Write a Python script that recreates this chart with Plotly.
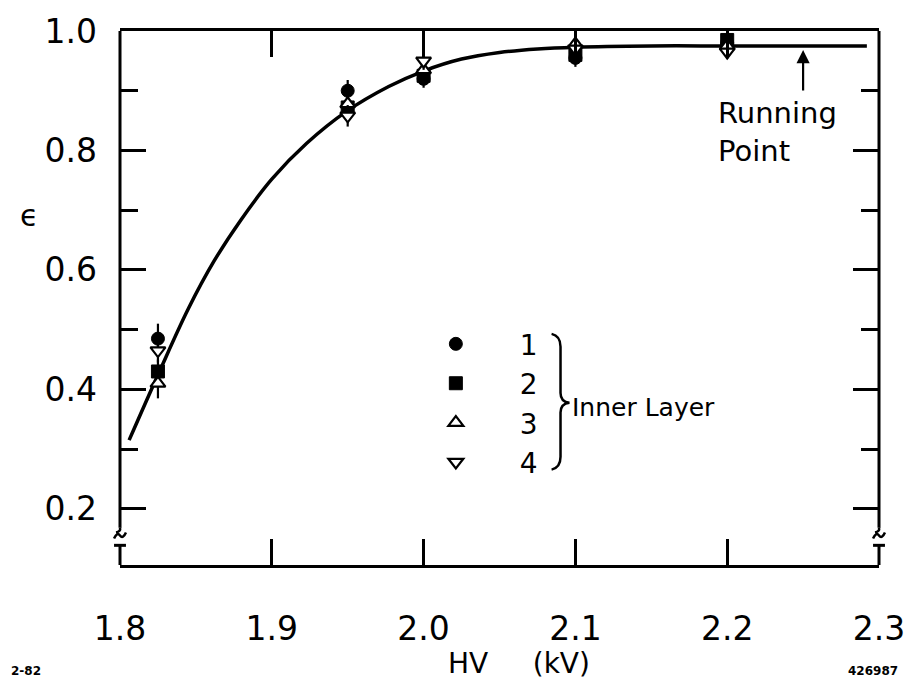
import plotly.graph_objects as go

# ---------------- data ----------------
hv = [1.825, 1.95, 2.0, 2.1, 2.2]
eff_1 = [0.485, 0.900, 0.920, 0.955, 0.980]
eff_2 = [0.430, 0.872, 0.925, 0.960, 0.985]
eff_3 = [0.410, 0.878, 0.935, 0.978, 0.975]
eff_4 = [0.465, 0.858, 0.950, 0.970, 0.965]
err_1 = [0.025, 0.018, 0.015, 0.015, 0.012]
err_2 = [0.020, 0.015, 0.015, 0.015, 0.012]
err_3 = [0.025, 0.015, 0.015, 0.015, 0.012]
err_4 = [0.020, 0.018, 0.015, 0.015, 0.012]
series_names = ["1", "2", "3", "4"]

curve_hv = [1.806, 1.826, 1.845, 1.862, 1.880, 1.900, 1.923, 1.949, 1.977, 2.000,
            2.025, 2.050, 2.075, 2.100, 2.150, 2.200, 2.250, 2.292]
curve_eff = [0.315, 0.430, 0.535, 0.615, 0.685, 0.752, 0.812, 0.865, 0.907, 0.933,
             0.953, 0.964, 0.970, 0.973, 0.975, 0.975, 0.975, 0.975]

x_ticks = [1.8, 1.9, 2.0, 2.1, 2.2, 2.3]
x_ticktext = ["1.8", "1.9", "2.0", "2.1", "2.2", "2.3"]
y_ticks = [0.2, 0.4, 0.6, 0.8, 1.0]
y_ticktext = ["0.2", "0.4", "0.6", "0.8", "1.0"]
running_point = 2.25
plateau = 0.975

# ---------------- geometry helpers (decorations only) ----------------
W, H = 917, 684
ML, MR, MT, MB = 120, 32, 22, 119
PW, PH = W - ML - MR, H - MT - MB
Y0, Y1 = 0.106, 1.0


def px(xp):
    return (xp - ML) / PW


def py(yp):
    return (H - MB - yp) / PH


FONT = "DejaVu Sans"
fig = go.Figure()

fig.add_trace(go.Scatter(x=curve_hv, y=curve_eff, mode="lines",
                         line=dict(color="black", width=3.5, shape="spline", smoothing=1.0),
                         showlegend=False, hoverinfo="skip"))

styles = [
    dict(symbol="circle", color="black", line=dict(color="black", width=1)),
    dict(symbol="square", color="black", line=dict(color="black", width=1)),
    dict(symbol="triangle-up", color="white", line=dict(color="black", width=2.2)),
    dict(symbol="triangle-down", color="white", line=dict(color="black", width=2.2)),
]
for name, ys, es, st in zip(series_names, [eff_1, eff_2, eff_3, eff_4],
                            [err_1, err_2, err_3, err_4], styles):
    fig.add_trace(go.Scatter(
        x=hv, y=ys, mode="markers", name=name,
        marker=dict(size=13, **st),
        error_y=dict(type="data", array=es, color="black", thickness=2.2, width=0),
    ))

shapes = []
# left & right axis lines with a break
for xpix in (ML, W - MR):
    xp = px(xpix)
    shapes.append(dict(type="line", xref="paper", yref="paper", x0=xp, x1=xp,
                       y0=1, y1=py(527), line=dict(color="black", width=3)))
    shapes.append(dict(type="line", xref="paper", yref="paper", x0=xp, x1=xp,
                       y0=py(545), y1=0, line=dict(color="black", width=3)))
    shapes.append(dict(type="line", xref="paper", yref="paper", x0=px(xpix - 6), x1=px(xpix + 6),
                       y0=py(545), y1=py(545), line=dict(color="black", width=3)))
    path = (f"M {px(xpix - 6)},{py(538)} Q {px(xpix - 3)},{py(531)} {px(xpix)},{py(535)} "
            f"Q {px(xpix + 3)},{py(539)} {px(xpix + 6)},{py(532)}")
    shapes.append(dict(type="path", xref="paper", yref="paper", path=path,
                       line=dict(color="black", width=2.5)))
    path2 = f"M {px(xpix)},{py(527)} Q {px(xpix + 1)},{py(531)} {px(xpix - 4)},{py(532)}"
    shapes.append(dict(type="path", xref="paper", yref="paper", path=path2,
                       line=dict(color="black", width=2.5)))

# brace
bp = [(555, 330), (564, 332), (564, 343), (564, 390), (564, 399), (573, 400),
      (564, 401), (564, 410), (564, 455), (564, 466), (555, 468)]
b = [(px(a), py(c)) for a, c in bp]
brace = (f"M {b[0][0]},{b[0][1]} Q {b[1][0]},{b[1][1]} {b[2][0]},{b[2][1]} "
         f"L {b[3][0]},{b[3][1]} Q {b[4][0]},{b[4][1]} {b[5][0]},{b[5][1]} "
         f"Q {b[6][0]},{b[6][1]} {b[7][0]},{b[7][1]} L {b[8][0]},{b[8][1]} "
         f"Q {b[9][0]},{b[9][1]} {b[10][0]},{b[10][1]}")
shapes.append(dict(type="path", xref="paper", yref="paper", path=brace,
                   line=dict(color="black", width=2.5)))

annotations = [
    dict(x=running_point, y=plateau, xref="x", yref="y", text="", showarrow=True,
         ax=0, ay=46, arrowhead=2, arrowsize=1.2, arrowwidth=2.2, arrowcolor="black",
         standoff=4),
    dict(x=px(721), y=py(125), xref="paper", yref="paper", text="Running<br>Point",
         showarrow=False, xanchor="left", yanchor="middle", align="left",
         font=dict(family=FONT, size=29, color="black")),
    dict(x=px(574), y=py(405), xref="paper", yref="paper", text="Inner Layer",
         showarrow=False, xanchor="left", yanchor="middle",
         font=dict(family=FONT, size=25, color="black")),
    dict(x=px(522), y=py(665), xref="paper", yref="paper", text="HV&nbsp;&nbsp;&nbsp;&nbsp;&nbsp;(kV)",
         showarrow=False, xanchor="center", yanchor="middle",
         font=dict(family=FONT, size=28, color="black")),
    dict(x=px(28), y=py(210), xref="paper", yref="paper", text="ϵ",
         showarrow=False, xanchor="center", yanchor="middle",
         font=dict(family=FONT, size=30, color="black")),
    dict(x=px(8), y=py(673), xref="paper", yref="paper", text="<b>2-82</b>",
         showarrow=False, xanchor="left", yanchor="middle",
         font=dict(family=FONT, size=12, color="black")),
    dict(x=px(906), y=py(673), xref="paper", yref="paper", text="<b>426987</b>",
         showarrow=False, xanchor="right", yanchor="middle",
         font=dict(family=FONT, size=12, color="black")),
]

fig.update_layout(
    width=W, height=H, autosize=False,
    margin=dict(l=ML, r=MR, t=MT, b=MB, pad=0),
    paper_bgcolor="white", plot_bgcolor="white",
    font=dict(family=FONT, color="black"),
    shapes=shapes, annotations=annotations,
    showlegend=True,
    legend=dict(x=px(394), y=py(315), xanchor="left", yanchor="top",
                font=dict(family=FONT, size=28, color="black"),
                itemwidth=118, bgcolor="rgba(0,0,0,0)", traceorder="normal",
                itemclick=False),
    xaxis=dict(range=[1.8, 2.3], showgrid=False, zeroline=False,
               showline=True, mirror="ticks", linecolor="black", linewidth=3,
               ticks="inside", ticklen=26, tickwidth=3, tickcolor="black",
               tickvals=x_ticks, ticktext=x_ticktext, ticklabelstandoff=32,
               tickfont=dict(family=FONT, size=33, color="black")),
    yaxis=dict(range=[Y0, Y1], showgrid=False, zeroline=False,
               showline=False, mirror="ticks",
               ticks="inside", ticklen=26, tickwidth=3, tickcolor="black",
               tickvals=y_ticks, ticktext=y_ticktext, ticklabelstandoff=22,
               minor=dict(ticks="inside", ticklen=18, tickwidth=3, tickcolor="black",
                          tickvals=[0.3, 0.5, 0.7, 0.9]),
               tickfont=dict(family=FONT, size=33, color="black")),
)

fig.write_html("out.html")
